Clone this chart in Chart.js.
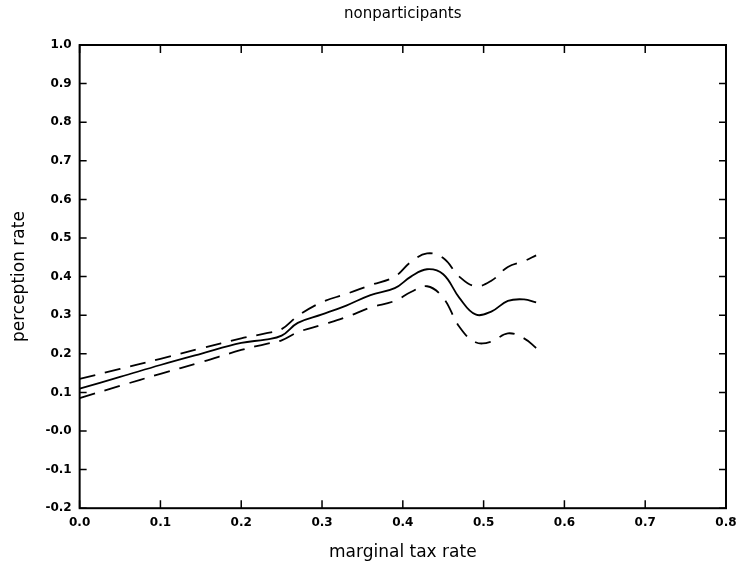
<!DOCTYPE html>
<html>
<head>
<meta charset="utf-8">
<script src="https://cdn.jsdelivr.net/npm/chart.js@4.4.1/dist/chart.umd.min.js"></script>
<style>
  html, body { margin: 0; padding: 0; background: #fff; }
  #wrap { width: 737px; height: 565px; }
</style>
</head>
<body>
<div id="wrap"><canvas id="chart" width="737" height="565"></canvas></div>
<script>
// marginal tax rate (x) and the estimated perception rate with its band
var taxRate = [0, 0.05, 0.1, 0.15, 0.2, 0.23, 0.25, 0.27, 0.3, 0.33, 0.36, 0.39, 0.41, 0.43, 0.45, 0.47, 0.49, 0.51, 0.53, 0.55, 0.565];
var estimate = [0.11, 0.14, 0.171, 0.2, 0.228, 0.237, 0.247, 0.28, 0.302, 0.325, 0.352, 0.37, 0.4, 0.419, 0.406, 0.345, 0.302, 0.31, 0.337, 0.341, 0.333];
var upperBand = [0.135, 0.161, 0.187, 0.214, 0.24, 0.253, 0.264, 0.298, 0.334, 0.355, 0.378, 0.4, 0.438, 0.46, 0.448, 0.4, 0.375, 0.39, 0.425, 0.44, 0.455];
var lowerBand = [0.085, 0.117, 0.148, 0.178, 0.21, 0.225, 0.235, 0.256, 0.275, 0.295, 0.32, 0.337, 0.36, 0.375, 0.345, 0.27, 0.23, 0.232, 0.253, 0.24, 0.215];

var xTicks = ['0.0', '0.1', '0.2', '0.3', '0.4', '0.5', '0.6', '0.7', '0.8'];
var yTicks = ['-0.2', '-0.1', '-0.0', '0.1', '0.2', '0.3', '0.4', '0.5', '0.6', '0.7', '0.8', '0.9', '1.0'];
var titleText = 'nonparticipants';

function pts(ys) {
  return taxRate.map(function (x, i) { return { x: x, y: ys[i] }; });
}

var font = "'DejaVu Sans', sans-serif";

// frame + inward tick marks on all four sides, title centred over the plot
var frameTicks = {
  id: 'frameTicks',
  afterDraw: function (chart) {
    var c = chart.ctx, a = chart.chartArea;
    var sx = chart.scales.x, sy = chart.scales.y;
    c.save();
    c.strokeStyle = '#000';
    c.lineWidth = 2;
    c.strokeRect(a.left, a.top, a.right - a.left, a.bottom - a.top);
    c.lineWidth = 1.5;
    c.beginPath();
    sx.ticks.forEach(function (t) {
      var px = sx.getPixelForValue(t.value);
      c.moveTo(px, a.bottom); c.lineTo(px, a.bottom - 8);
      c.moveTo(px, a.top); c.lineTo(px, a.top + 8);
    });
    sy.ticks.forEach(function (t) {
      var py = sy.getPixelForValue(t.value);
      c.moveTo(a.left, py); c.lineTo(a.left + 7, py);
      c.moveTo(a.right, py); c.lineTo(a.right - 7, py);
    });
    c.stroke();

    c.fillStyle = '#000';
    c.font = '15px ' + font;
    c.textAlign = 'center';
    c.textBaseline = 'middle';
    c.fillText(titleText, (a.left + a.right) / 2, 14);
    c.restore();
  }
};

new Chart(document.getElementById('chart'), {
  type: 'scatter',
  data: {
    datasets: [
      { data: pts(estimate), showLine: true, borderColor: '#000', borderWidth: 1.8, pointRadius: 0, tension: 0.4, fill: false },
      { data: pts(upperBand), showLine: true, borderColor: '#000', borderWidth: 1.8, borderDash: [16, 10], pointRadius: 0, tension: 0.4, fill: false },
      { data: pts(lowerBand), showLine: true, borderColor: '#000', borderWidth: 1.8, borderDash: [16, 10], pointRadius: 0, tension: 0.4, fill: false }
    ]
  },
  options: {
    responsive: false,
    animation: false,
    layout: { padding: { top: 45, right: 11, left: 9, bottom: 2 } },
    plugins: {
      legend: { display: false },
      tooltip: { enabled: false },
      title: { display: false }
    },
    scales: {
      x: {
        type: 'linear',
        min: 0, max: 0.8,
        border: { display: false },
        grid: { drawOnChartArea: false, drawTicks: false },
        afterFit: function (s) { s.paddingRight = 0; },
        ticks: {
          stepSize: 0.1,
          padding: 7,
          color: '#000',
          font: { family: font, size: 12, weight: 'bold' },
          callback: function (v, i) { return xTicks[i]; }
        },
        title: {
          display: true,
          text: 'marginal tax rate',
          color: '#000',
          font: { family: font, size: 17, weight: 'normal' },
          padding: { top: 6, bottom: 0 }
        }
      },
      y: {
        type: 'linear',
        min: -0.2, max: 1.0,
        border: { display: false },
        grid: { drawOnChartArea: false, drawTicks: false },
        ticks: {
          stepSize: 0.1,
          padding: 8,
          color: '#000',
          font: { family: font, size: 12, weight: 'bold' },
          callback: function (v, i) { return yTicks[i]; }
        },
        title: {
          display: true,
          text: 'perception rate',
          color: '#000',
          font: { family: font, size: 17, weight: 'normal' },
          padding: { top: 0, bottom: 8 }
        }
      }
    }
  },
  plugins: [frameTicks]
});
</script>
</body>
</html>
